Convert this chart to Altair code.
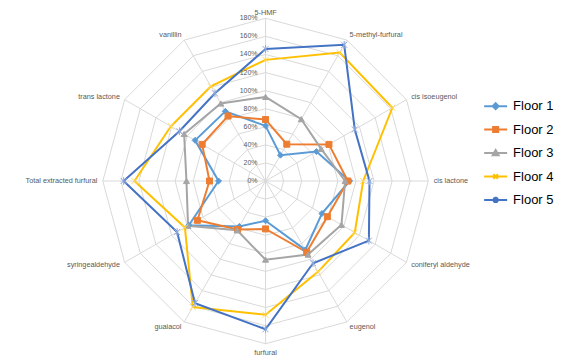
import math
import altair as alt
import pandas as pd

# ---------------- data ----------------
categories = ["5-HMF", "5-methyl-furfural", "cis isoeugenol", "cis lactone",
              "coniferyl aldehyde", "eugenol", "furfural", "guaiacol",
              "syringealdehyde", "Total extracted furfural", "trans lactone", "vanillin"]
series = ["Floor 1", "Floor 2", "Floor 3", "Floor 4", "Floor 5"]
floor1 = [61, 33, 65, 93, 72, 88, 44, 58, 98, 52, 90, 89]
floor2 = [68, 47, 81, 91, 79, 91, 53, 62, 87, 62, 81, 83]
floor3 = [93, 79, 71, 88, 97, 94, 87, 63, 99, 87.5, 104, 99]
floor4 = [134, 164, 162, 108, 114, 116, 148, 161, 103, 145, 121, 121]
floor5 = [146, 174, 114, 115, 132, 105, 164, 156, 113, 157, 110, 112]
ticks = [0, 20, 40, 60, 80, 100, 120, 140, 160, 180]

# ---------------- style ----------------
colors = ["#5B9BD5", "#ED7D31", "#A5A5A5", "#FFC000", "#4472C4"]
marker_strokes = ["#5B9BD5", "#ED7D31", "#A5A5A5", "#FFD966", "#8FAADC"]
point_shapes = ["diamond", "square", "triangle-up",
                "M-1,-1L1,1M1,-1L-1,1",
                "M-1,-1L1,1M1,-1L-1,1M0,-1.3V1.3"]
legend_shapes = [
    "M-1,0H1M0,-0.26L0.26,0L0,0.26L-0.26,0Z",
    "M-1,0H1M-0.22,-0.22H0.22V0.22H-0.22Z",
    "M-1,0H1M0,-0.26L0.26,0.2H-0.26Z",
    "M-1,0H1M-0.2,-0.2L0.2,0.2M0.2,-0.2L-0.2,0.2",
    "M-1,0H1M-0.2,-0.2L0.2,0.2M0.2,-0.2L-0.2,0.2M0,-0.27V0.27",
]
FONT = "Liberation Sans"
W, H = 570, 350
CX, CY = 258, 173       # centre of the radar inside the view (px)
K = 163 / 180           # px per percentage point
xdom = [-CX / K, (W - CX) / K]
ydom = [-(H - CY) / K, CY / K]

N = len(categories)
ang = [2 * math.pi * j / N for j in range(N)]

# series data (closed polygons)
rows = []
for s, vals in zip(series, [floor1, floor2, floor3, floor4, floor5]):
    for i in range(N + 1):
        j = i % N
        rows.append(dict(series=s, idx=i, category=categories[j], value=vals[j],
                         x=vals[j] * math.sin(ang[j]), y=vals[j] * math.cos(ang[j])))
df = pd.DataFrame(rows)

# grid rings
grows = []
for t in ticks[1:]:
    for i in range(N + 1):
        j = i % N
        grows.append(dict(ring=t, idx=i, x=t * math.sin(ang[j]), y=t * math.cos(ang[j])))
gdf = pd.DataFrame(grows)

# spokes
sdf = pd.DataFrame([dict(x=0.0, y=0.0, x2=ticks[-1] * math.sin(a), y2=ticks[-1] * math.cos(a))
                    for a in ang])

# radial tick labels
tdf = pd.DataFrame([dict(x=0.0, y=float(t), label=f"{t}%") for t in ticks])

# category labels
crows = []
for c, a in zip(categories, ang):
    s, co = math.sin(a), math.cos(a)
    r = ticks[-1] + 6 + (4 if co < -0.9 else 0)
    al = "left" if s > 0.1 else ("right" if s < -0.1 else "center")
    crows.append(dict(label=c, x=r * s, y=r * co, al=al))
cdf = pd.DataFrame(crows)

X = lambda f="x": alt.X(f"{f}:Q", scale=alt.Scale(domain=xdom, nice=False, zero=False), axis=None)
Y = lambda f="y": alt.Y(f"{f}:Q", scale=alt.Scale(domain=ydom, nice=False, zero=False), axis=None)

grid = alt.Chart(gdf).mark_line(color="#D9D9D9", strokeWidth=1).encode(
    x=X(), y=Y(), detail="ring:N", order="idx:Q")
spokes = alt.Chart(sdf).mark_rule(color="#D9D9D9", strokeWidth=1).encode(
    x=X(), y=Y(), x2="x2:Q", y2="y2:Q")
tick_text = alt.Chart(tdf).mark_text(align="right", baseline="middle", dx=-8,
                                     fontSize=7, font=FONT, color="#595959").encode(
    x=X(), y=Y(), text="label:N")

cat_layers = []
for al in ["left", "center", "right"]:
    cat_layers.append(
        alt.Chart(cdf).transform_filter(alt.datum.al == al).mark_text(
            align=al, baseline="middle", fontSize=7.3, font=FONT, color="#595959").encode(
            x=X(), y=Y(), text="label:N"))

cscale = alt.Scale(domain=series, range=colors)
lines = alt.Chart(df).mark_line(strokeWidth=2).encode(
    x=X(), y=Y(), order="idx:Q",
    color=alt.Color("series:N", scale=cscale, legend=None))
points = alt.Chart(df).transform_filter(alt.datum.idx < N).mark_point(
    filled=True, size=36, strokeWidth=1, opacity=1).encode(
    x=X(), y=Y(),
    fill=alt.Fill("series:N", scale=cscale, legend=None),
    stroke=alt.Stroke("series:N", scale=alt.Scale(domain=series, range=marker_strokes), legend=None),
    shape=alt.Shape("series:N", scale=alt.Scale(domain=series, range=point_shapes), legend=None))

leg = alt.Legend(orient="none", legendX=476, legendY=85.5, title=None, padding=0,
                 symbolSize=529, symbolStrokeWidth=2, labelFontSize=13, labelFont=FONT,
                 labelColor="#000000", labelOffset=5, rowPadding=3.5)
legend_layer = alt.Chart(df).transform_filter("false").mark_point(filled=True, opacity=1).encode(
    color=alt.Color("series:N", scale=cscale, legend=leg),
    stroke=alt.Stroke("series:N", scale=cscale, legend=leg),
    shape=alt.Shape("series:N", scale=alt.Scale(domain=series, range=legend_shapes), legend=leg))

chart = alt.layer(grid, spokes, *cat_layers, lines, points, tick_text, legend_layer).resolve_scale(
    color="independent", fill="independent", stroke="independent", shape="independent"
).properties(
    width=W, height=H, autosize=alt.AutoSizeParams(type="none"), padding=0,
    background="white"
).configure_view(stroke=None)

chart.save("out.html", embed_options={"renderer": "svg", "actions": False})
